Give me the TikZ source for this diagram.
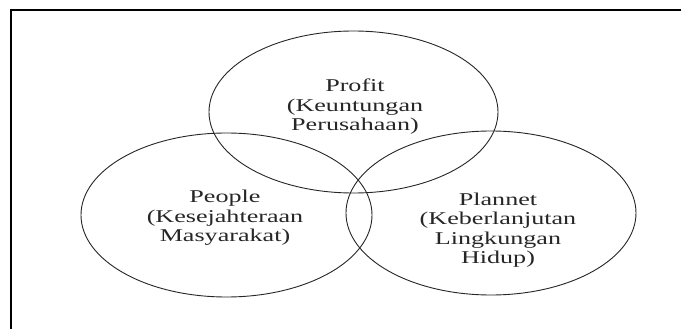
\documentclass[tikz,border=0pt]{standalone}
\usepackage{fontspec}
\setmainfont{Liberation Serif}[FakeStretch=1.45]
\begin{document}
\begin{tikzpicture}[x=1pt,y=-1pt,
  circ/.style={draw=black!85,line width=0.9pt},
  lbl/.style={align=center,text=black!85,font=\fontsize{18}{19.5}\selectfont,inner sep=0pt},
  frame/.style={draw=black,line width=1.4pt}]
\useasboundingbox (0,0) rectangle (681,329);
\fill[white] (0,0) rectangle (681,329);
\draw[frame] (11,329) -- (11,10) -- (681,10);
\draw[circ] (353.5,112) ellipse [x radius=144.5pt, y radius=81pt];
\draw[circ] (226.5,215) ellipse [x radius=145.5pt, y radius=82pt];
\draw[circ] (491,213) ellipse [x radius=145pt, y radius=82pt];
\node[lbl] (profit) at (355,107) {Profit\\(Keuntungan\\Perusahaan)};
\node[lbl] (people) at (225,218) {People\\(Kesejahteraan\\Masyarakat)};
\node[lbl] (planet) at (498,230) {Plannet\\(Keberlanjutan\\Lingkungan\\Hidup)};
\end{tikzpicture}
\end{document}
